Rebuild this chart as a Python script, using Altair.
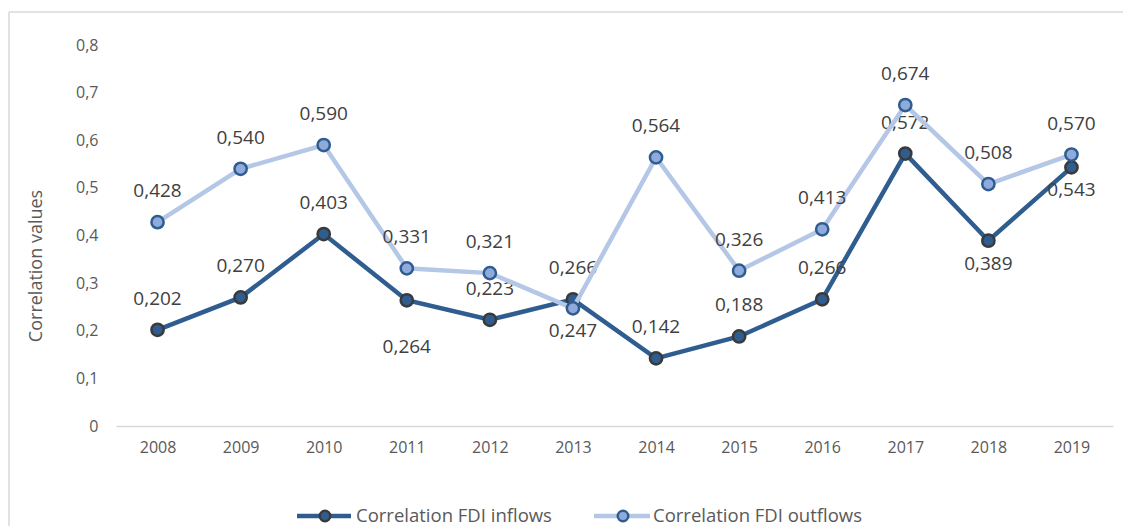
import altair as alt
import pandas as pd

years = ["2008", "2009", "2010", "2011", "2012", "2013", "2014", "2015", "2016", "2017", "2018", "2019"]
inflows = [0.202, 0.270, 0.403, 0.264, 0.223, 0.266, 0.142, 0.188, 0.266, 0.572, 0.389, 0.543]
outflows = [0.428, 0.540, 0.590, 0.331, 0.321, 0.247, 0.564, 0.326, 0.413, 0.674, 0.508, 0.570]
series_names = ["Correlation FDI inflows", "Correlation FDI outflows"]
# label placement relative to point (categorical)
inflow_label_pos = ["above", "above", "above", "lower", "above", "above", "above", "above", "above", "above", "below", "below"]
outflow_label_pos = ["above", "above", "above", "above", "above", "below", "above", "above", "above", "above", "above", "above"]

FONT = "Open Sans"
IN_LINE = "#2F5D90"
IN_FILL = "#2F5D90"
IN_STROKE = "#3A3A3A"
OUT_LINE = "#B4C7E7"
OUT_FILL = "#8FAADC"
OUT_STROKE = "#2F5D90"
TEXT = "#404040"
AXIS_TEXT = "#595959"

df_in = pd.DataFrame({"year": years, "value": inflows, "series": series_names[0], "pos": inflow_label_pos})
df_out = pd.DataFrame({"year": years, "value": outflows, "series": series_names[1], "pos": outflow_label_pos})

W, H = 997, 381

x = alt.X("year:O", scale=alt.Scale(type="point", padding=0.5),
          axis=alt.Axis(title=None, domain=True, domainColor="#D9D9D9", domainWidth=1.5,
                        ticks=False, labelAngle=0, labelPadding=13, labelFontSize=16,
                        labelColor=AXIS_TEXT, labelFont=FONT, grid=False))
y = alt.Y("value:Q", scale=alt.Scale(domain=[0, 0.8], nice=False),
          axis=alt.Axis(title="Correlation values", values=[0, 0.1, 0.2, 0.3, 0.4, 0.5, 0.6, 0.7, 0.8],
                        labelExpr="datum.value == 0 ? '0' : replace(format(datum.value, '.1f'), '.', ',')",
                        domain=False, ticks=False, grid=False, labelPadding=18, labelFontSize=16,
                        labelColor=AXIS_TEXT, labelFont=FONT, titleFont=FONT, titleFontSize=18,
                        titleFontWeight="normal", titleColor=AXIS_TEXT, titleX=-80, titleY=H / 2 + 30,
                        titleAngle=-90, titleAlign="center", titleBaseline="middle"))


def series_layers(df, line_color, fill, stroke):
    base = alt.Chart(df).encode(x=x, y=y)
    line = base.mark_line(color=line_color, strokeWidth=4.5)
    pts = base.mark_point(filled=True, fill=fill, stroke=stroke, strokeWidth=2.5, size=150, opacity=1)
    lab = base.transform_calculate(lbl="replace(format(datum.value, '.3f'), '.', ',')")
    labels = []
    for pos, dy in [("above", -31), ("below", 23), ("lower", 47)]:
        labels.append(lab.transform_filter(alt.datum.pos == pos).mark_text(
            dy=dy, font=FONT, fontSize=19, color=TEXT).encode(text="lbl:N"))
    return [line, pts] + labels


layers = []
# border (top and left edges of the chart frame)
frame = alt.Chart(pd.DataFrame({"k": [0]}))
layers.append(frame.mark_rule(color="#D9D9D9", strokeWidth=1.5).encode(
    x=alt.value(-107), x2=alt.value(1020), y=alt.value(-33)))
layers.append(frame.mark_rule(color="#D9D9D9", strokeWidth=1.5).encode(
    x=alt.value(-107), y=alt.value(-33), y2=alt.value(500)))

layers += series_layers(df_in, IN_LINE, IN_FILL, IN_STROKE)
layers += series_layers(df_out, OUT_LINE, OUT_FILL, OUT_STROKE)

# legend
leg = pd.DataFrame({"name": series_names})
LY = 471


def legend_entry(name, x0, x1, xc, xt, line_color, fill, stroke):
    d = alt.Chart(leg).transform_filter(alt.datum.name == name)
    return [
        d.mark_rule(color=line_color, strokeWidth=4.5).encode(x=alt.value(x0), x2=alt.value(x1), y=alt.value(LY)),
        d.mark_point(filled=True, fill=fill, stroke=stroke, strokeWidth=2.5, size=110, opacity=1).encode(
            x=alt.value(xc), y=alt.value(LY)),
        d.mark_text(align="left", baseline="middle", font=FONT, fontSize=18.5, color=AXIS_TEXT).encode(
            x=alt.value(xt), y=alt.value(LY), text="name:N"),
    ]


layers += legend_entry(series_names[0], 181, 235, 209, 240, IN_LINE, IN_FILL, IN_STROKE)
layers += legend_entry(series_names[1], 478, 534, 507, 537, OUT_LINE, OUT_FILL, OUT_STROKE)

chart = alt.layer(*layers).properties(
    width=W, height=H, autosize="none",
    padding={"left": 108, "top": 37, "right": 10, "bottom": 100},
).configure_view(stroke=None)

chart.save("out.html", embed_options={"renderer": "svg", "actions": False})
